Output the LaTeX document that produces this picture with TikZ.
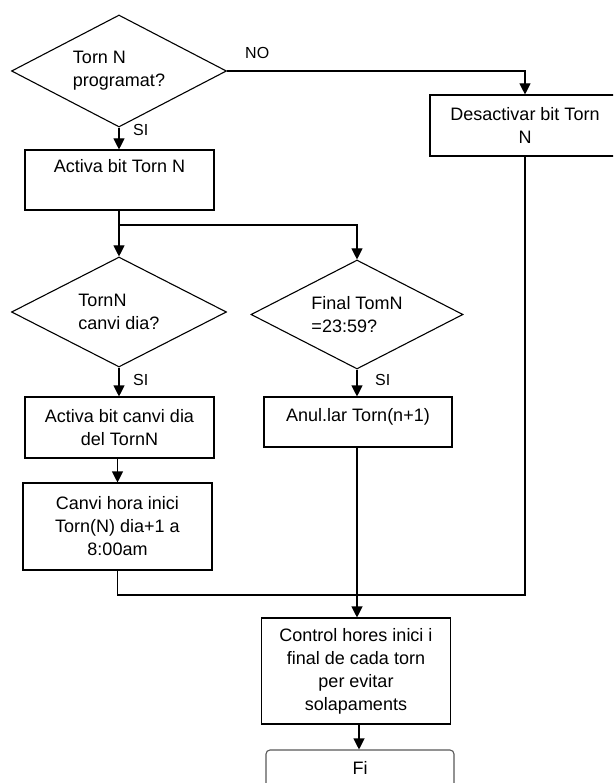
\documentclass[tikz,border=0pt]{standalone}
\usepackage{fontspec}
\setmainfont{Liberation Sans}
\usetikzlibrary{shapes.geometric,arrows.meta}
\begin{document}
\begin{tikzpicture}[x=1pt,y=-1pt,
  every node/.style={font=\fontsize{18}{23}\selectfont, text=black},
  proc/.style={draw, line width=1.1pt, minimum width=189pt, align=center, inner sep=0pt},
  decision/.style={draw, diamond, line width=1.1pt, aspect=2, inner sep=0pt, align=left},
  link/.style={line width=1.1pt},
  arrowlink/.style={link, -{Triangle[width=11pt,length=11pt]}},
  tag/.style={font=\fontsize{16}{18}\selectfont, anchor=west, inner sep=0pt},
]
% page frame
\path[use as bounding box] (0,0) rectangle (613,783);
\fill[white] (0,0) rectangle (613,783);
\clip (0,0) rectangle (613,783);

% decisions
\node[decision, minimum width=215pt, minimum height=112pt] (q1) at (119,71) {Torn N\\programat?};
\node[decision, minimum width=215pt, minimum height=110pt] (q2) at (119,312) {TornN\\canvi dia?};
\node[decision, minimum width=212pt, minimum height=109pt] (q3) at (357,314.5) {Final TomN\\=23:59?};

% process boxes
\node[proc, minimum height=60pt, text height=13pt, text depth=27pt] (act) at (119.5,180) {Activa bit Torn N};
\node[proc, minimum width=190pt, minimum height=61pt] (des) at (525,125.5) {Desactivar bit Torn\\N};
\node[proc, minimum height=61pt] (bitdia) at (119.5,427.5) {Activa bit canvi dia\\del TornN};
\node[proc, minimum width=188pt, minimum height=50pt, text height=13pt, text depth=15pt] (anul) at (358,422) {Anul.lar Torn(n+1)};
\node[proc, minimum height=87pt] (hora) at (117.5,526.5) {Canvi hora inici\\Torn(N) dia+1 a\\8:00am};
\node[proc, minimum height=106pt] (ctrl) at (356,671) {Control hores inici i\\final de cada torn\\per evitar\\solapaments};
\node[proc, draw=black!65, rounded corners=4pt, minimum width=188pt, minimum height=60pt, text height=13pt, text depth=25pt] (fi) at (360,780) {Fi};

% branch labels
\node[tag] (no) at (245,52.5) {NO};
\node[tag] (si1) at (133,129.5) {SI};
\node[tag] (si2) at (133,380) {SI};
\node[tag] (si3) at (375,380) {SI};

% connectors
\coordinate (split) at (119,225);
\coordinate (merge) at (357,595);
\draw[arrowlink] (q1.south) -- (q1.south |- act.north);
\draw[arrowlink] (q1.east) -| (des.north);
\draw[link] (act.south -| split) -- (split);
\draw[arrowlink] (split) -- (q2.north);
\draw[arrowlink] (split) -| (q3.north);
\draw[arrowlink] (q2.south) -- (q2.south |- bitdia.north);
\draw[arrowlink] (q3.south) -- (q3.south |- anul.north);
\draw[arrowlink] (bitdia.south -| hora.north) -- (hora.north);
\draw[link] (hora.south) |- (merge);
\draw[link] (des.south) |- (merge);
\draw[link] (anul.south -| merge) -- (merge);
\draw[arrowlink] (merge) -- (merge |- ctrl.north);
\draw[arrowlink] (ctrl.south -| 359,0) -- (fi.north -| 359,0);
\end{tikzpicture}
\end{document}
